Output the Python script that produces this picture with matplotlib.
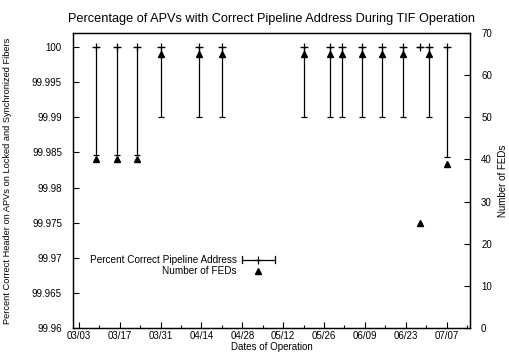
import matplotlib
matplotlib.use("Agg")
import matplotlib.pyplot as plt
import matplotlib.dates as mdates
from matplotlib.lines import Line2D
from matplotlib.legend_handler import HandlerBase
import numpy as np

plt.rcParams["font.family"] = ["Liberation Sans", "DejaVu Sans"]

# run dates (2007)
dates = ["2007-03-09", "2007-03-16", "2007-03-23", "2007-03-31", "2007-04-13",
         "2007-04-21", "2007-05-19", "2007-05-28", "2007-06-01", "2007-06-08",
         "2007-06-15", "2007-06-22", "2007-06-28", "2007-07-01", "2007-07-07"]
# percent correct pipeline address (value and lower end of error bar)
pct = [100, 100, 100, 100, 100, 100, 100, 100, 100, 100, 100, 100, 100, 100, 100]
pct_low = [99.9846, 99.9846, 99.9846, 99.9901, 99.9901, 99.9901, 99.9901,
           99.9901, 99.9901, 99.9901, 99.9901, 99.9901, 100, 99.9901, 99.9844]
# number of FEDs
n_feds = [40, 40, 40, 65, 65, 65, 65, 65, 65, 65, 65, 65, 25, 65, 39]

tick_dates = ["2007-03-03", "2007-03-17", "2007-03-31", "2007-04-14", "2007-04-28",
              "2007-05-12", "2007-05-26", "2007-06-09", "2007-06-23", "2007-07-07"]


class ErrBarHandler(HandlerBase):
    # gnuplot-like key sample: horizontal bar with end caps and a plus
    def create_artists(self, legend, orig_handle, xdescent, ydescent,
                       width, height, fontsize, trans):
        y = height / 2 - ydescent
        x0, x1 = -xdescent, width - xdescent
        c = 2.5
        arts = [
            Line2D([x0, x1], [y, y], color="black", lw=0.9),
            Line2D([x0, x0], [y - c, y + c], color="black", lw=0.9),
            Line2D([x1, x1], [y - c, y + c], color="black", lw=0.9),
            Line2D([(x0 + x1) / 2], [y], marker="+", ms=6, mew=0.9, color="black"),
        ]
        for a in arts:
            a.set_transform(trans)
        return arts


x = mdates.datestr2num(dates)
pct = np.array(pct)
low_err = pct - np.array(pct_low)

fig = plt.figure(figsize=(5.1, 3.6), dpi=100)
ax = fig.add_axes([73 / 510, 32 / 360, 397 / 510, 295 / 360])
ax2 = ax.twinx()

eb = ax.errorbar(x, pct, yerr=[low_err, np.zeros_like(low_err)], fmt="+", color="black",
                 ms=6, mew=0.9, elinewidth=0.9, capsize=2.5, capthick=0.9)
tri, = ax2.plot(x, n_feds, "^", color="black", ms=5, linestyle="none")

ax.set_xlim(mdates.datestr2num("2007-03-01"), mdates.datestr2num("2007-07-15"))
ax.set_ylim(99.96, 100.002)
ax2.set_ylim(0, 70)

ax.set_yticks(np.arange(99.96, 100.0001, 0.005))
ax.set_yticklabels(["99.96", "99.965", "99.97", "99.975", "99.98", "99.985",
                    "99.99", "99.995", "100"])
ax2.set_yticks(np.arange(0, 71, 10))

ax.set_xticks(mdates.datestr2num(tick_dates))
ax.set_xticklabels([d[5:7] + "/" + d[8:10] for d in tick_dates])
ax.set_xticks(mdates.datestr2num(tick_dates) + 7, minor=True)

fs = 7.0
ax.tick_params(axis="both", which="both", direction="in", labelsize=fs, length=4,
               width=0.8, top=False, right=False)
ax.tick_params(axis="y", pad=8)
ax.tick_params(axis="x", pad=2)
ax.tick_params(axis="x", which="minor", length=2)
ax2.tick_params(axis="y", direction="in", labelsize=fs, length=4, width=0.8, pad=8)

for a in (ax, ax2):
    for s in a.spines.values():
        s.set_linewidth(0.9)

ax.set_title("Percentage of APVs with Correct Pipeline Address During TIF Operation",
             fontsize=9.2, pad=8)
ax.set_xlabel("Dates of Operation", fontsize=fs, labelpad=1)
ax.set_ylabel("Percent Correct Header on APVs on Locked and Synchronized Fibers",
              fontsize=6.7, labelpad=14)
ax2.set_ylabel("Number of FEDs", fontsize=fs, labelpad=4)

leg = ax.legend([eb, tri], ["Percent Correct Pipeline Address", "Number of FEDs"],
                loc="lower left", bbox_to_anchor=(0.02, 0.145), frameon=False,
                fontsize=7.2, markerfirst=False, handlelength=3.3, labelspacing=0.1,
                handletextpad=0.5, handler_map={type(eb): ErrBarHandler()})
for t in leg.get_texts():
    t.set_ha("right")
leg._legend_box.align = "right"

fig.savefig("out.png", dpi=100)
